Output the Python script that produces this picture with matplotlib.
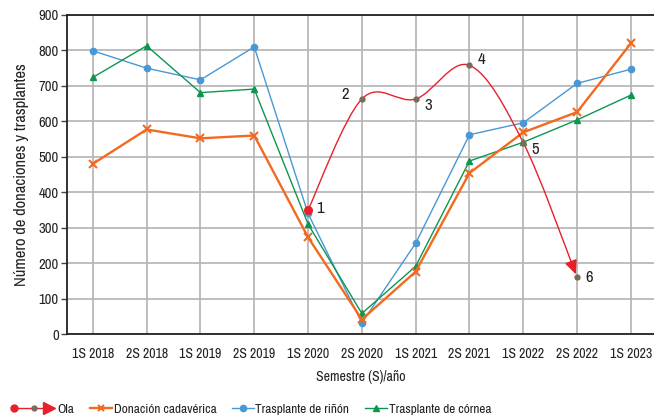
import numpy as np
import matplotlib
matplotlib.use("Agg")
import matplotlib.pyplot as plt
from matplotlib.path import Path
from matplotlib.patches import FancyArrowPatch
from matplotlib.lines import Line2D
from matplotlib.legend_handler import HandlerBase

plt.rcParams['font.family'] = ['Archivo Narrow', 'DejaVu Sans']

semestres = ['1S 2018', '2S 2018', '1S 2019', '2S 2019', '1S 2020', '2S 2020',
             '1S 2021', '2S 2021', '1S 2022', '2S 2022', '1S 2023']
donacion = [480, 577, 552, 560, 273, 41, 176, 454, 569, 626, 820]
rinon = [799, 750, 717, 810, 340, 31, 256, 562, 596, 707, 747]
cornea = [724, 813, 681, 691, 310, 58, 191, 488, 541, 604, 674]

# Ola: puntos 1..6 (indice de semestre, valor)
ola_x = [4, 5, 6, 7, 8, 9]
ola_y = [350, 663, 663, 758, 540, 160]
ola_etiquetas = ['1', '2', '3', '4', '5', '6']
ola_offsets = [(6, 1), (-9, 3), (6, -5), (6, 4), (6, -5), (6, 0)]

AZUL = '#4a98d3'
NARANJA = '#f26a1f'
VERDE = '#0d9650'
ROJO = '#e8202a'
CAFE = '#7b6a58'
GRIS = '#b3b3b3'

fig = plt.figure(figsize=(6.54, 4.18), dpi=100)
ax = fig.add_axes([67 / 654, 84 / 418, 1 - 67 / 654, 319 / 418])

x = np.arange(len(semestres))
ax.plot(x, rinon, color=AZUL, lw=1.0, marker='o', ms=4.5, label='Trasplante de riñón', zorder=3)
ax.plot(x, cornea, color=VERDE, lw=1.0, marker='^', ms=5, label='Trasplante de córnea', zorder=3)
ax.plot(x, donacion, color=NARANJA, lw=1.7, marker='x', ms=5.5, mew=1.5,
        label='Donación cadavérica', zorder=4)


# curva suave (Catmull-Rom -> Bezier) para la ola
def bezier_ola(px, py, t_final=0.96):
    pts = np.column_stack([px, py]).astype(float)
    ext = np.vstack([pts[0], pts, pts[-1]])
    verts = [tuple(pts[0])]
    codes = [Path.MOVETO]
    n = len(pts)
    for i in range(n - 1):
        p0, p1, p2, p3 = ext[i], ext[i + 1], ext[i + 2], ext[i + 3]
        c1 = p1 + (p2 - p0) / 6
        c2 = p2 - (p3 - p1) / 6
        end = p2
        if i == n - 2:
            # recortar el ultimo tramo para dejar la punta sobre el punto 6
            t = t_final
            a = p1 + (c1 - p1) * t
            b = c1 + (c2 - c1) * t
            c = c2 + (end - c2) * t
            ab = a + (b - a) * t
            bc = b + (c - b) * t
            end = ab + (bc - ab) * t
            c1, c2 = a, ab
        verts += [tuple(c1), tuple(c2), tuple(end)]
        codes += [Path.CURVE4] * 3
    return Path(verts, codes)


flecha = FancyArrowPatch(path=bezier_ola(ola_x, ola_y), arrowstyle='-|>,head_length=0.85,head_width=0.38',
                         mutation_scale=10, color=ROJO, lw=1.0, transform=ax.transData, zorder=5)
ax.add_patch(flecha)
ax.plot(ola_x[0], ola_y[0], 'o', color=ROJO, ms=5.5, zorder=6)
ax.plot(ola_x[1:], ola_y[1:], 'o', color=CAFE, ms=3.5, zorder=6)
for xi, yi, et, off in zip(ola_x, ola_y, ola_etiquetas, ola_offsets):
    ax.annotate(et, (xi, yi), xytext=off, textcoords='offset points', fontsize=12,
                ha='left' if off[0] > 0 else 'right', va='center', color='#222222', zorder=7)

ax.set_xlim(-0.48, 10.43)
ax.set_ylim(0, 900)
ax.set_yticks(range(0, 901, 100))
ax.set_xticks(x)
ax.set_xticklabels(semestres)
ax.grid(True, color=GRIS, lw=1.2)
ax.set_axisbelow(True)
for s in ['left', 'top', 'bottom']:
    ax.spines[s].set_color('#222222')
    ax.spines[s].set_linewidth(1.3)
ax.spines['right'].set_visible(False)
ax.tick_params(axis='y', length=4, width=1, color='#444444', labelsize=10.5, pad=2, labelcolor='#222222')
ax.tick_params(axis='x', length=0, labelsize=10, pad=9, labelcolor='#222222')
ax.set_xlabel('Semestre (S)/año', fontsize=10, color='#222222', labelpad=7)
ax.set_ylabel('Número de donaciones y trasplantes', fontsize=12, color='#222222', labelpad=7)


class HandlerOla(HandlerBase):
    def create_artists(self, legend, orig_handle, xdescent, ydescent, width, height, fontsize, trans):
        y = height / 2 - ydescent
        x0 = -xdescent - 0.91 * width
        x1 = -xdescent + 0.69 * width
        linea = Line2D([x0, x1], [y, y], color=ROJO, lw=1.0, transform=trans)
        p1 = Line2D([x0], [y], marker='o', color=ROJO, ms=5, ls='', transform=trans)
        p2 = Line2D([-xdescent], [y], marker='o', color=CAFE, ms=3.5, ls='', transform=trans)
        punta = Line2D([x1], [y], marker='>', color=ROJO, ms=9, ls='', transform=trans)
        return [linea, p1, p2, punta]


ola_handle = Line2D([], [], color=ROJO)
h_don = Line2D([], [], color=NARANJA, lw=1.7, marker='x', ms=5, mew=1.5)
h_rin = Line2D([], [], color=AZUL, lw=1.0, marker='o', ms=4.5)
h_cor = Line2D([], [], color=VERDE, lw=1.0, marker='^', ms=5)
fig.legend([ola_handle, h_don, h_rin, h_cor],
           ['Ola', 'Donación cadavérica', 'Trasplante de riñón', 'Trasplante de córnea'],
           handler_map={ola_handle: HandlerOla()}, loc='center left',
           bbox_to_anchor=(27.5 / 654, 9 / 418), ncol=4, frameon=False, borderpad=0,
           handlelength=1.65, handletextpad=0.12, columnspacing=1.2, fontsize=9.5,
           labelcolor='#222222')

fig.savefig('out.png', dpi=100)
